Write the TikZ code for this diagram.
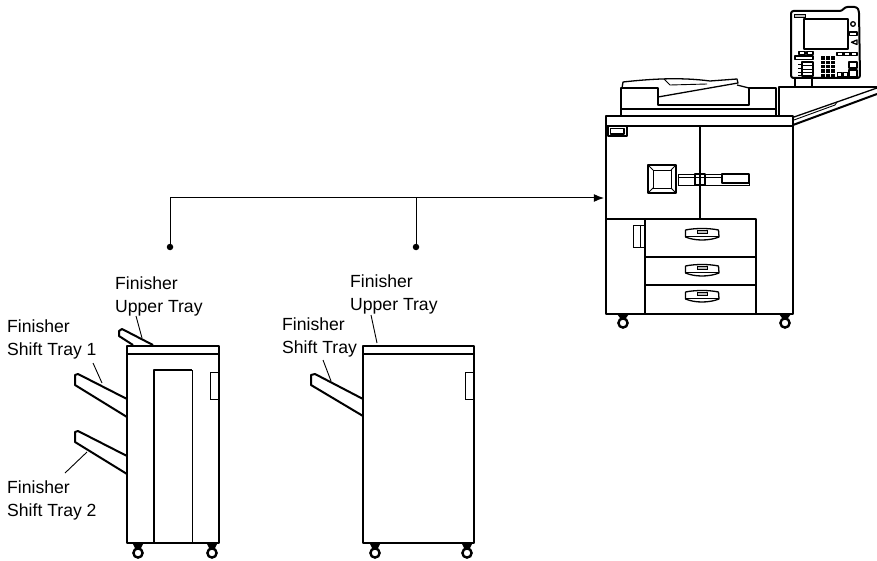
\documentclass[tikz,border=0pt]{standalone}
\usepackage{fontspec}
\setmainfont{Liberation Sans}
\usetikzlibrary{arrows.meta}
\tikzset{
  outl/.style={line width=2pt, line join=round},
  med/.style={line width=1.3pt, line join=round},
  fine/.style={line width=0.9pt},
  lbl/.style={align=left, anchor=base west, inner sep=0pt, font=\fontsize{17.6}{23}\selectfont},
  dot/.style={circle, fill=black, inner sep=0pt, minimum size=6.5pt},
}
\begin{document}
\begin{tikzpicture}[>={Latex[length=3.6mm,width=2.8mm]}, x=1pt, y=-1pt]
  \useasboundingbox (0,0) rectangle (877,561);
  \coordinate (hubL) at (170,198);
  \coordinate (hubM) at (416,198);
  \coordinate (copier) at (604,198);
  \node[dot] (dotL) at (170,247) {};
  \node[dot] (dotM) at (416,247) {};
  \draw[line width=1pt] (dotL) -- (hubL);
  \draw[line width=1pt] (dotM) -- (hubM);
  \draw[->, line width=1pt] (hubL) -- (copier);

  \draw[outl] (606,116.5) rectangle (793,314);
  \draw[med] (606,126) -- (793,126);
  \draw[med] (608,126) rectangle (627,136);
  \draw[med] (610.5,128.5) rectangle (624,134);
  \draw[med] (700,126) -- (700,219);
  \draw[med] (606,219) -- (756,219) -- (756,314);
  \draw[med] (645,219) -- (645,314);
  \draw[med] (645,257) -- (756,257);
  \draw[med] (645,285) -- (756,285);
  \draw[fine] (633,225) rectangle (645,247);
  \draw[fine] (640,225) -- (640,247);
  \draw[med] (648,165) rectangle (676,193);
  \draw[fine] (653,170) rectangle (671,188);
  \foreach \a/\b in {648/653,676/671} {
    \draw[fine] (\a,165) -- (\b,170);
    \draw[fine] (\a,193) -- (\b,188);
  }
  \draw[fine] (678,174) rectangle (749,185);
  \draw[fine] (678,177.5) -- (722,177.5);
  \draw[med] (695,174) rectangle (705,185);
  \draw[fine] (700,174) -- (700,185);
  \draw[med] (722,174) rectangle (749,183);
  \foreach \y in {228,264,290} {
    \draw[med] (685.5,\y+2) .. controls (695,\y) and (709,\y) .. (718.5,\y+2) -- (719,\y+9)
      .. controls (709,\y+13) and (695,\y+13) .. (685.5,\y+9) -- cycle;
    \draw[fine] (685.5,\y+8) -- (719,\y+8);
    \draw[fine, fill=black!25] (697,\y+2) rectangle (707,\y+5);
  }
  \foreach \x in {623,785} {
    \fill (\x-6,314) -- (\x+6,314) -- (\x+3,318) -- (\x-3,318) -- cycle;
    \draw[line width=2.4pt] (\x,323) circle (4.6);
  }

  \draw[outl] (621,116) -- (621,88) -- (658,88) -- (658,105) -- (749,105) -- (749,88) -- (776,88) -- (776,116);
  \draw[med] (621,109) -- (776,109);
  \draw[med] (622,88) -- (623,82) .. controls (650,79) and (680,77) .. (710,81) -- (737,79) -- (738,83) -- (658,97);
  \draw[fine] (664,79) -- (670,85) -- (707,84);
  \draw[med] (737,85) -- (749,88);
  \draw[outl] (779,116) -- (779,87.5) -- (877,87.5);
  \draw[outl] (793,125) -- (877,94);
  \draw[med] (794,117) -- (837,102) -- (877,88);
  \draw[fine] (794,120) -- (835,105) -- (837,102);

  \draw[outl, rounded corners=2.5pt] (791,11) -- (842,11) -- (845,7) -- (857,7) -- (859,11) -- (860,78) -- (791,78) -- cycle;
  \draw[outl] (794.5,78) -- (794.5,87);
  \draw[outl] (812,78) -- (812,87);
  \draw[fine, fill=black!25] (794,14) rectangle (805,17);
  \draw[med] (804,19) rectangle (848,49);
  \draw[med] (853,24) circle (2.3);
  \draw[med] (849.5,32) rectangle (857,35.5);
  \draw[med] (851.5,42.3) -- (857,40) -- (857,44.5) -- cycle;
  \foreach \x in {837,844,851} {\draw[med] (\x,52.5) rectangle (\x+6,55.5);}
  \foreach \x in {821,826,831} {
    \foreach \y in {56.5,60.8,65.1,69.4,73.7} {\fill (\x,\y) rectangle (\x+4,\y+3.3);}
  }
  \draw[med] (849,62) rectangle (857,68);
  \draw[med] (849,70) rectangle (857,77);
  \draw[med] (837.5,72.5) rectangle (842,77);
  \draw[med] (843.5,72.5) rectangle (848,77);
  \draw[med] (799,51.5) rectangle (805,54.5);
  \draw[med] (807,51.5) rectangle (813,54.5);
  \draw[med] (795,56) rectangle (813,59.5);
  \draw[med] (802,62) rectangle (813,76);
  \foreach \y in {65.5,69,72.5} {\draw[fine] (802,\y) -- (813,\y);}
  \foreach \y in {64,68,72,75} {\draw[fine] (798,\y) -- (801,\y);}

  \draw[outl] (127,346) rectangle (219,543);
  \draw[med] (127,354) -- (219,354);
  \draw[outl] (154,543) -- (154,370) -- (192,370);
  \draw[fine] (192,370) -- (192,543);
  \draw[fine] (210,372) rectangle (218,399);
  \draw[outl] (153,345) -- (122,329) -- (119,331) -- (119,336) -- (133,345);
  \foreach \y in {0,57} {
    \draw[outl] (127,399+\y) -- (78,374+\y) -- (75,375+\y) -- (75,385+\y) -- (127,417+\y);
  }
  \draw[outl] (363,346) rectangle (474,543);
  \draw[med] (363,354) -- (474,354);
  \draw[fine] (465,372) rectangle (473,399);
  \draw[outl] (363,399) -- (315,374) -- (311,375) -- (311,385) -- (363,416);
  \foreach \x in {138,212,375,467} {
    \fill (\x-5.5,543) -- (\x+5.5,543) -- (\x+3,548) -- (\x-3,548) -- cycle;
    \draw[line width=2.4pt] (\x,553) circle (4.6);
  }

  \node[lbl] (upperA) at (115,312) {Finisher\\Upper Tray};
  \node[lbl] (shiftA) at (7,355) {Finisher\\Shift Tray 1};
  \node[lbl] (shiftB) at (7,516) {Finisher\\Shift Tray 2};
  \node[lbl] (upperB) at (350,310) {Finisher\\Upper Tray};
  \node[lbl] (shiftC) at (282,353) {Finisher\\Shift Tray};
  \coordinate (upperAs) at (136,316);
  \coordinate (upperAe) at (142,338);
  \coordinate (shiftAs) at (93,363);
  \coordinate (shiftAe) at (102,383);
  \coordinate (shiftBs) at (65,473);
  \coordinate (shiftBe) at (87,452);
  \coordinate (upperBs) at (371,315);
  \coordinate (upperBe) at (377,343);
  \coordinate (shiftCs) at (323,360);
  \coordinate (shiftCe) at (331,381);
  \foreach \a in {upperA,shiftA,shiftB,upperB,shiftC} {\draw[fine] (\a s) -- (\a e);}
\end{tikzpicture}
\end{document}
